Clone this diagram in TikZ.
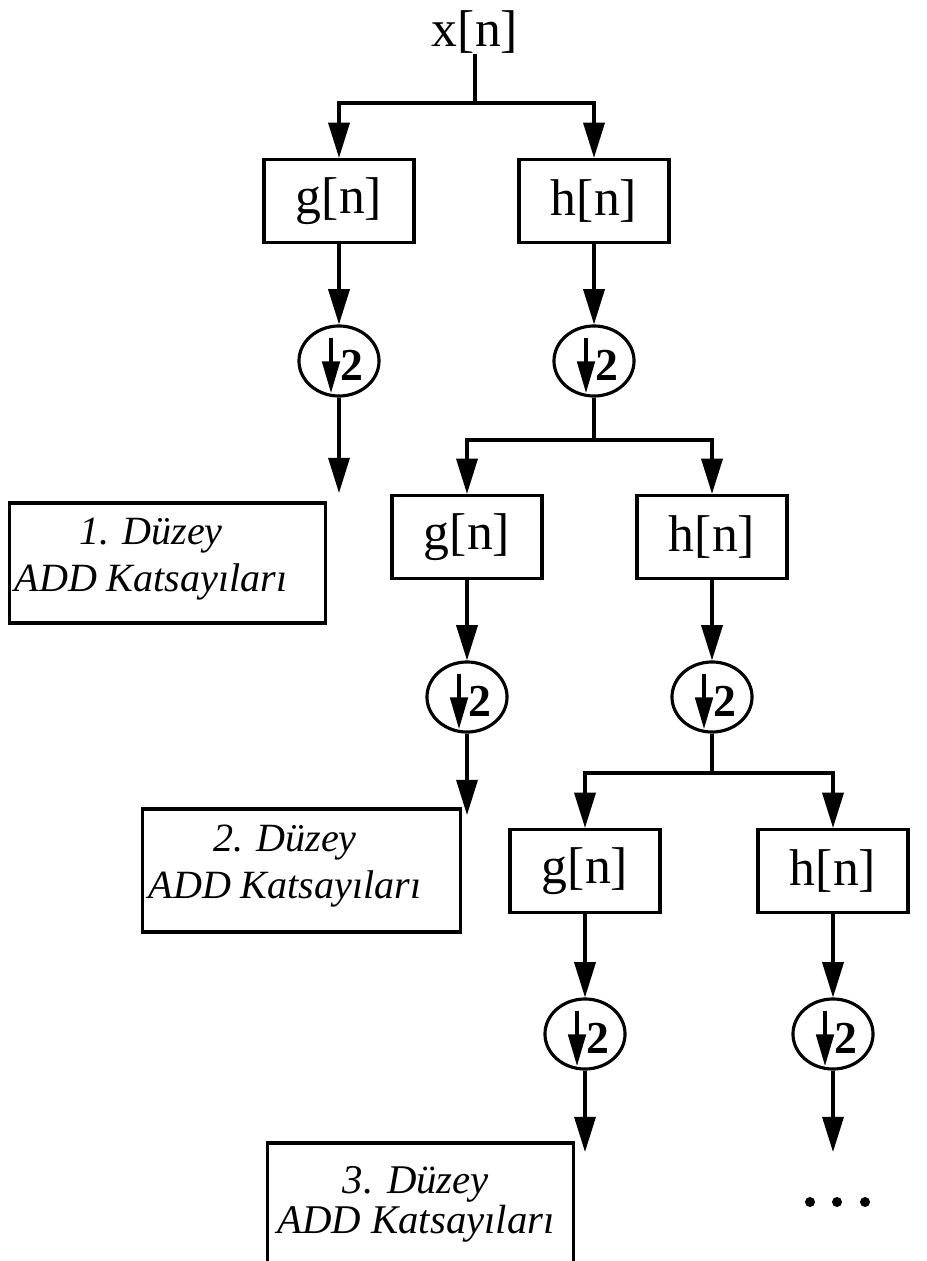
\documentclass[tikz,border=0pt]{standalone}
\usepackage{fontspec}
\setmainfont{Liberation Serif}
\usetikzlibrary{arrows.meta,shapes.geometric}

\tikzset{
  flow/.style={line width=0.9pt, -{Triangle[length=10pt,width=6pt]}},
  wire/.style={line width=0.9pt},
  filt/.style={draw, line width=0.9pt, minimum width=1.5cm, minimum height=0.83cm,
    inner sep=0pt, font=\fontsize{14.7}{17}\selectfont},
  decim/.style={draw, ellipse, line width=0.9pt, minimum width=0.8cm, minimum height=0.7cm,
    inner sep=0pt,
    path picture={
      \draw[line width=0.9pt, -{Triangle[length=9pt,width=5pt]}]
        ([xshift=-0.08cm,yshift=0.23cm]path picture bounding box.center)
        -- ([xshift=-0.08cm,yshift=-0.32cm]path picture bounding box.center);
      \node[font=\fontsize{13}{13}\selectfont\bfseries]
        at ([xshift=0.13cm,yshift=-0.04cm]path picture bounding box.center) {2};
    }},
  coef/.style={draw, line width=0.9pt, inner sep=0pt},
  coeftxt/.style={align=center, inner sep=0pt, font=\fontsize{11.4}{13.4}\selectfont\itshape},
}

\begin{document}
\begin{tikzpicture}[x=0.01cm, y=-0.01cm]
  \useasboundingbox (0,0) rectangle (926,1261);

  % Input signal
  \node[inner sep=0pt, font=\fontsize{14.7}{17}\selectfont] (x) at (475,32) {x[n]};

  % Level 1 filters and decimators
  \node[filt] (g1) at (339,201) {g[n]};
  \node[filt] (h1) at (594,201) {h[n]};
  \node[decim] (d1g) at (339,361) {};
  \node[decim] (d1h) at (594,361) {};

  % Level 2 filters and decimators
  \node[filt] (g2) at (467,537) {g[n]};
  \node[filt] (h2) at (712,537) {h[n]};
  \node[decim] (d2g) at (467,697) {};
  \node[decim] (d2h) at (712,697) {};

  % Level 3 filters and decimators
  \node[filt] (g3) at (585,871) {g[n]};
  \node[filt] (h3) at (833,871) {h[n]};
  \node[decim] (d3g) at (585,1034) {};
  \node[decim] (d3h) at (833,1034) {};

  % Branch points and free ends
  \coordinate (b0) at (475,103);
  \coordinate (b1) at (594,440);
  \coordinate (b2) at (712,773);
  \coordinate (o1) at (339,493);
  \coordinate (o2) at (467,815);
  \coordinate (o3) at (585,1152);
  \coordinate (o4) at (833,1152);

  % Coefficient boxes
  \node[coef, minimum width=3.15cm, minimum height=1.2cm] (k1) at (167.5,563) {};
  \node[coeftxt] (t1) at (151,559) {1. Düzey\\ADD Katsayıları};
  \node[coef, minimum width=3.17cm, minimum height=1.23cm] (k2) at (301.5,870.5) {};
  \node[coeftxt] (t2) at (285,866) {2. Düzey\\ADD Katsayıları};
  \node[coef, minimum width=3.05cm, minimum height=1.54cm] (k3) at (420.5,1220) {};
  \node[coeftxt, font=\fontsize{11.6}{11.4}\selectfont\itshape] (t3) at (416,1204) {3. Düzey\\ADD Katsayıları};

  % Level 1 connections
  \draw[wire] (x) -- (b0);
  \draw[flow] (b0) -| (g1);
  \draw[flow] (b0) -| (h1);
  \draw[flow] (g1) -- (d1g);
  \draw[flow] (h1) -- (d1h);
  \draw[flow] (d1g) -- (o1);

  % Level 2 connections
  \draw[wire] (d1h) -- (b1);
  \draw[flow] (b1) -| (g2);
  \draw[flow] (b1) -| (h2);
  \draw[flow] (g2) -- (d2g);
  \draw[flow] (h2) -- (d2h);
  \draw[flow] (d2g) -- (o2);

  % Level 3 connections
  \draw[wire] (d2h) -- (b2);
  \draw[flow] (b2) -| (g3);
  \draw[flow] (b2) -| (h3);
  \draw[flow] (g3) -- (d3g);
  \draw[flow] (h3) -- (d3h);
  \draw[flow] (d3g) -- (o3);
  \draw[flow] (d3h) -- (o4);

  % Continuation dots
  \fill (810,1202) circle [radius=0.05cm];
  \fill (837,1202) circle [radius=0.05cm];
  \fill (865,1202) circle [radius=0.05cm];
\end{tikzpicture}
\end{document}
